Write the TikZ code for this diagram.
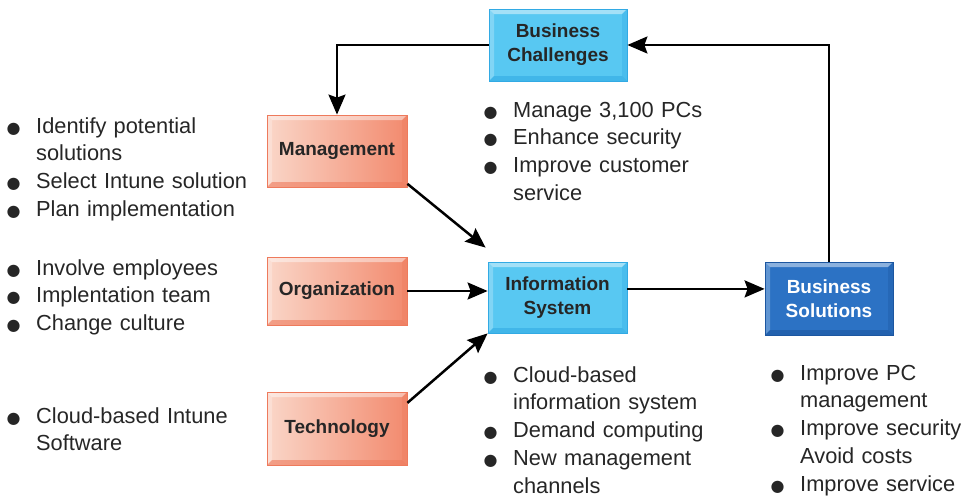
\documentclass[tikz,border=0pt]{standalone}
\usepackage{fontspec}
\setmainfont{Liberation Sans}
\newfontfamily\symfont{DejaVu Sans}
\usetikzlibrary{arrows.meta,calc}

\definecolor{isblue}{RGB}{88,200,242}
\definecolor{isblueedge}{RGB}{50,170,228}
\definecolor{soldark}{RGB}{44,114,196}
\definecolor{soledge}{RGB}{28,86,160}
\definecolor{orgleft}{RGB}{250,214,200}
\definecolor{orgright}{RGB}{242,138,110}
\definecolor{orgedge}{RGB}{238,122,92}
\definecolor{labgray}{RGB}{38,38,38}

% bullet hanging left of the text
\newcommand{\bul}{\leavevmode\llap{{\symfont\fontsize{16}{16}\selectfont ●}\hspace{15.5pt}}}

\tikzset{
  bevel/.style={path picture={
    \path (path picture bounding box.south west) coordinate (bsw)
          (path picture bounding box.north east) coordinate (bne)
          (path picture bounding box.north west) coordinate (bnw)
          (path picture bounding box.south east) coordinate (bse);
    \fill[white,opacity=.45] (bnw) -- (bne) -- ($(bne)+(-5pt,-5pt)$) -- ($(bnw)+(5pt,-5pt)$) -- cycle;
    \fill[white,opacity=.25] (bnw) -- ($(bnw)+(5pt,-5pt)$) -- ($(bsw)+(5pt,5pt)$) -- (bsw) -- cycle;
    \fill[#1,opacity=.6] (bsw) -- ($(bsw)+(5pt,5pt)$) -- ($(bse)+(-5pt,5pt)$) -- (bse) -- cycle;
    \fill[#1,opacity=.35] (bse) -- ($(bse)+(-5pt,5pt)$) -- ($(bne)+(-5pt,-5pt)$) -- (bne) -- cycle;
  }},
  boxlabel/.style={font=\bfseries\fontsize{19}{24}\selectfont, align=center, inner sep=2pt},
  bluebox/.style={boxlabel, draw=isblueedge, line width=0.8pt, fill=isblue,
    bevel=isblueedge, text=labgray},
  solbox/.style={boxlabel, draw=soledge, line width=0.8pt, fill=soldark,
    bevel=soledge, text=white},
  orgbox/.style={boxlabel, draw=orgedge, line width=0.8pt, left color=orgleft,
    right color=orgright, bevel=orgedge, text=labgray,
    minimum width=140pt},
  bullets/.style={anchor=base west, align=left, text width=#1, inner sep=0pt,
    font=\fontsize{21.8}{27.8}\selectfont, text=labgray},
  link/.style={line width=2.5pt, -{Stealth[length=20pt,width=17pt,inset=3pt]}}
}

\begin{document}
\begin{tikzpicture}[x=1pt,y=-1pt]

\useasboundingbox (0,0) rectangle (962,498);

%====================================================
% Boxes
%====================================================
\node[bluebox, minimum width=138pt, minimum height=72pt] (bc) at (558,45)
  {Business\\Challenges};

\node[orgbox, minimum height=72pt] (mgmt) at (337,151) {Management};
\node[orgbox, minimum height=68pt] (org) at (337,291) {Organization};
\node[orgbox, minimum height=73pt] (tech) at (337,428.5) {Technology};

\node[bluebox, minimum width=139pt, minimum height=71pt] (is) at (557.5,297.5)
  {Information\\System};

\node[solbox, minimum width=128pt, minimum height=73pt] (bs) at (829,298.5)
  {Business\\Solutions};

%====================================================
% Arrows
%====================================================
% loop back through the challenges
\draw[link] (bc.west) -| (mgmt.north);
\draw[link] (bs.north) |- (bc.east);

% dimensions -> information system
\draw[link] (mgmt.-25) -- ($(is.north west)+(-2pt,14pt)$);
\draw[link] (org.east) -- (org.east -| is.west);
\draw[link] (tech.20) -- (is.south west);

% information system -> solutions
\draw[link] (is.7) -- (is.7 -| bs.west);

%====================================================
% Lists
%====================================================
\node[bullets=230pt] (mgmtlist) at (36,133)
  {\bul Identify potential\\solutions\\\bul Select Intune solution\\\bul Plan implementation};

\node[bullets=230pt] (orglist) at (36,275)
  {\bul Involve employees\\\bul Implentation team\\\bul Change culture};

\node[bullets=230pt] (techlist) at (36,423)
  {\bul Cloud-based Intune\\Software};

\node[bullets=220pt] (bclist) at (513,117)
  {\bul Manage 3,100 PCs\\\bul Enhance security\\\bul Improve customer\\service};

\node[bullets=220pt] (islist) at (513,382)
  {\bul Cloud-based\\information system\\\bul Demand computing\\\bul New management\\channels};

\node[bullets=165pt] (bslist) at (800,380)
  {\bul Improve PC\\management\\\bul Improve security\\Avoid costs\\\bul Improve service};

\end{tikzpicture}
\end{document}
